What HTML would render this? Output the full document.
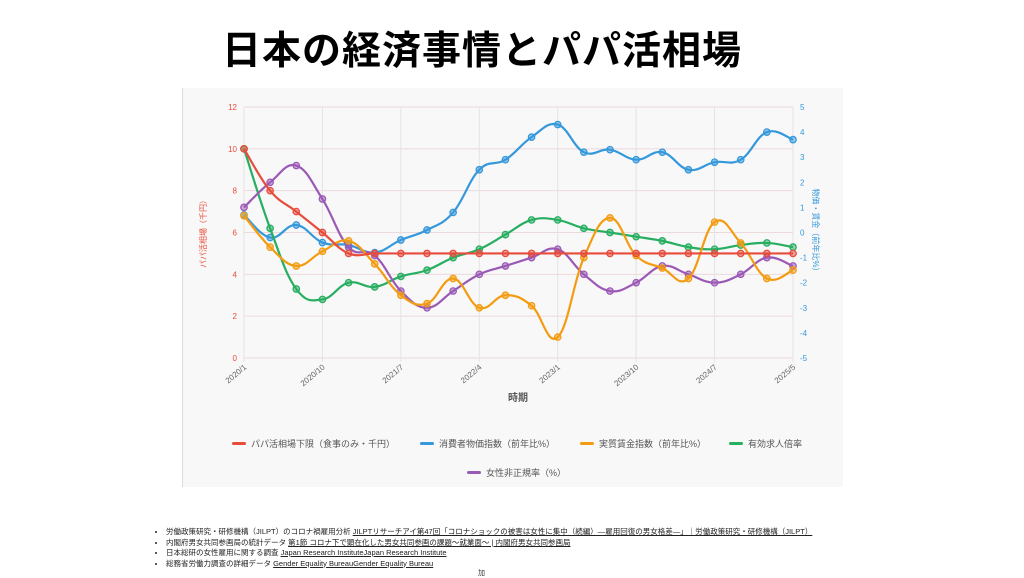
<!DOCTYPE html>
<html><head><meta charset="utf-8"><style>
body{margin:0;width:1024px;height:576px;background:#fff;overflow:hidden;font-family:"Liberation Sans","Noto Sans CJK JP",sans-serif;position:relative}
h1{position:absolute;left:0;top:20px;width:964px;margin:0;text-align:center;font-size:39px;font-weight:bold;color:#000;letter-spacing:1px}
#panel{position:absolute;left:182px;top:88px;width:660px;height:399px;background:#f8f8f8;border-left:1px solid #ddd}
ul{position:absolute;left:152px;top:527px;margin:0;padding:0 0 0 14px;font-size:7.5px;line-height:10.5px;color:#222}
ul a{color:#222;text-decoration:underline}
.f{position:absolute;left:478px;top:568px;font-size:7px;color:#333}
</style></head><body>
<h1>日本の経済事情とパパ活相場</h1>
<div id="panel"></div>
<svg id="s" width="1024" height="576" style="position:absolute;left:0;top:0"></svg>
<ul>
<li>労働政策研究・研修機構（JILPT）のコロナ禍雇用分析 <a>JILPTリサーチアイ第47回「コロナショックの被害は女性に集中（続編）―雇用回復の男女格差―」｜労働政策研究・研修機構（JILPT）</a></li>
<li>内閣府男女共同参画局の統計データ <a>第1節 コロナ下で顕在化した男女共同参画の課題～就業面～ | 内閣府男女共同参画局</a></li>
<li>日本総研の女性雇用に関する調査 <a>Japan Research InstituteJapan Research Institute</a></li>
<li>総務省労働力調査の詳細データ <a>Gender Equality BureauGender Equality Bureau</a></li>
</ul>
<div class="f">加</div>
<script>
const X0=244,X1=793,Y0=358,Y1=107,N=22,dx=(X1-X0)/21;
const L=v=>Y0-(v/12)*(Y0-Y1), R=v=>Y0-((v+5)/10)*(Y0-Y1);
let h='';
for(let i=0;i<=6;i++){let y=L(i*2);h+=`<line x1="${X0}" x2="${X1}" y1="${y}" y2="${y}" stroke="#ecd9dc" stroke-width="1"/>`;
h+=`<text x="${X0-7}" y="${y+3}" font-size="8" fill="#e74c3c" text-anchor="end">${i*2}</text>`;}
for(let v=-5;v<=5;v++){let y=R(v);h+=`<text x="${X1+7}" y="${y+3}" font-size="8" fill="#3498db">${v}</text>`;}
const labs=['2020/1','2020/10','2021/7','2022/4','2023/1','2023/10','2024/7','2025/5'];
labs.forEach((t,k)=>{let x=X0+k*3*dx;h+=`<line x1="${x}" x2="${x}" y1="${Y1}" y2="${Y0+4}" stroke="#e4e4e4"/>`;
h+=`<text transform="translate(${x+3},${Y0+10}) rotate(-40)" font-size="8" fill="#666" text-anchor="end">${t}</text>`;});
h+=`<text x="518" y="401" font-size="10" font-weight="bold" fill="#555" text-anchor="middle">時期</text>`;
h+=`<text transform="translate(206,232) rotate(-90)" font-size="8" fill="#e74c3c" text-anchor="middle">パパ活相場（千円）</text>`;
h+=`<text transform="translate(813,232) rotate(90)" font-size="8" fill="#3498db" text-anchor="middle">物価・賃金（前年比%）</text>`;
const S=[
['#3498db',R,[0.7,-0.2,0.3,-0.4,-0.5,-0.8,-0.3,0.1,0.8,2.5,2.9,3.8,4.3,3.2,3.3,2.9,3.2,2.5,2.8,2.9,4.0,3.7]],
['#27ae60',L,[10,6.2,3.3,2.8,3.6,3.4,3.9,4.2,4.8,5.2,5.9,6.6,6.6,6.2,6.0,5.8,5.6,5.3,5.2,5.4,5.5,5.3]],
['#9b59b6',L,[7.2,8.4,9.2,7.6,5.3,4.9,3.2,2.4,3.2,4.0,4.4,4.8,5.2,4.0,3.2,3.6,4.4,4.0,3.6,4.0,4.8,4.4]],
['#f39c12',L,[6.8,5.3,4.4,5.1,5.6,4.5,3.0,2.6,3.8,2.4,3.0,2.5,1.0,4.8,6.7,4.9,4.3,3.8,6.5,5.5,3.8,4.2]],
['#e74c3c',L,[10,8,7,6,5,5,5,5,5,5,5,5,5,5,5,5,5,5,5,5,5,5]],
];
S.forEach(([c,f,d])=>{let p=d.map((v,i)=>[X0+i*dx,f(v)]);let s=`M${p[0]}`;
for(let i=0;i<p.length-1;i++){let a=p[Math.max(0,i-1)],b=p[i],e=p[i+1],g=p[Math.min(p.length-1,i+2)],t=0.2;
s+=`C${b[0]+(e[0]-a[0])*t},${b[1]+(e[1]-a[1])*t} ${e[0]-(g[0]-b[0])*t},${e[1]-(g[1]-b[1])*t} ${e[0]},${e[1]}`;}
h+=`<path d="${s}" fill="none" stroke="${c}" stroke-width="2.2"/>`;
p.forEach(q=>h+=`<circle cx="${q[0]}" cy="${q[1]}" r="3.2" fill="${c}" fill-opacity="0.5" stroke="${c}" stroke-width="1.3"/>`);});
const lg=[['#e74c3c','パパ活相場下限（食事のみ・千円）',232,444],['#3498db','消費者物価指数（前年比%）',420,444],['#f39c12','実質賃金指数（前年比%）',580,444],['#27ae60','有効求人倍率',729,444],['#9b59b6','女性非正規率（%）',467,473]];
lg.forEach(([c,t,x,y])=>{h+=`<rect x="${x}" y="${y-2}" width="14" height="3" rx="1.5" fill="${c}"/><text x="${x+19}" y="${y+3}" font-size="9" fill="#555">${t}</text>`;});
document.getElementById('s').innerHTML=h;
</script>
</body></html>
